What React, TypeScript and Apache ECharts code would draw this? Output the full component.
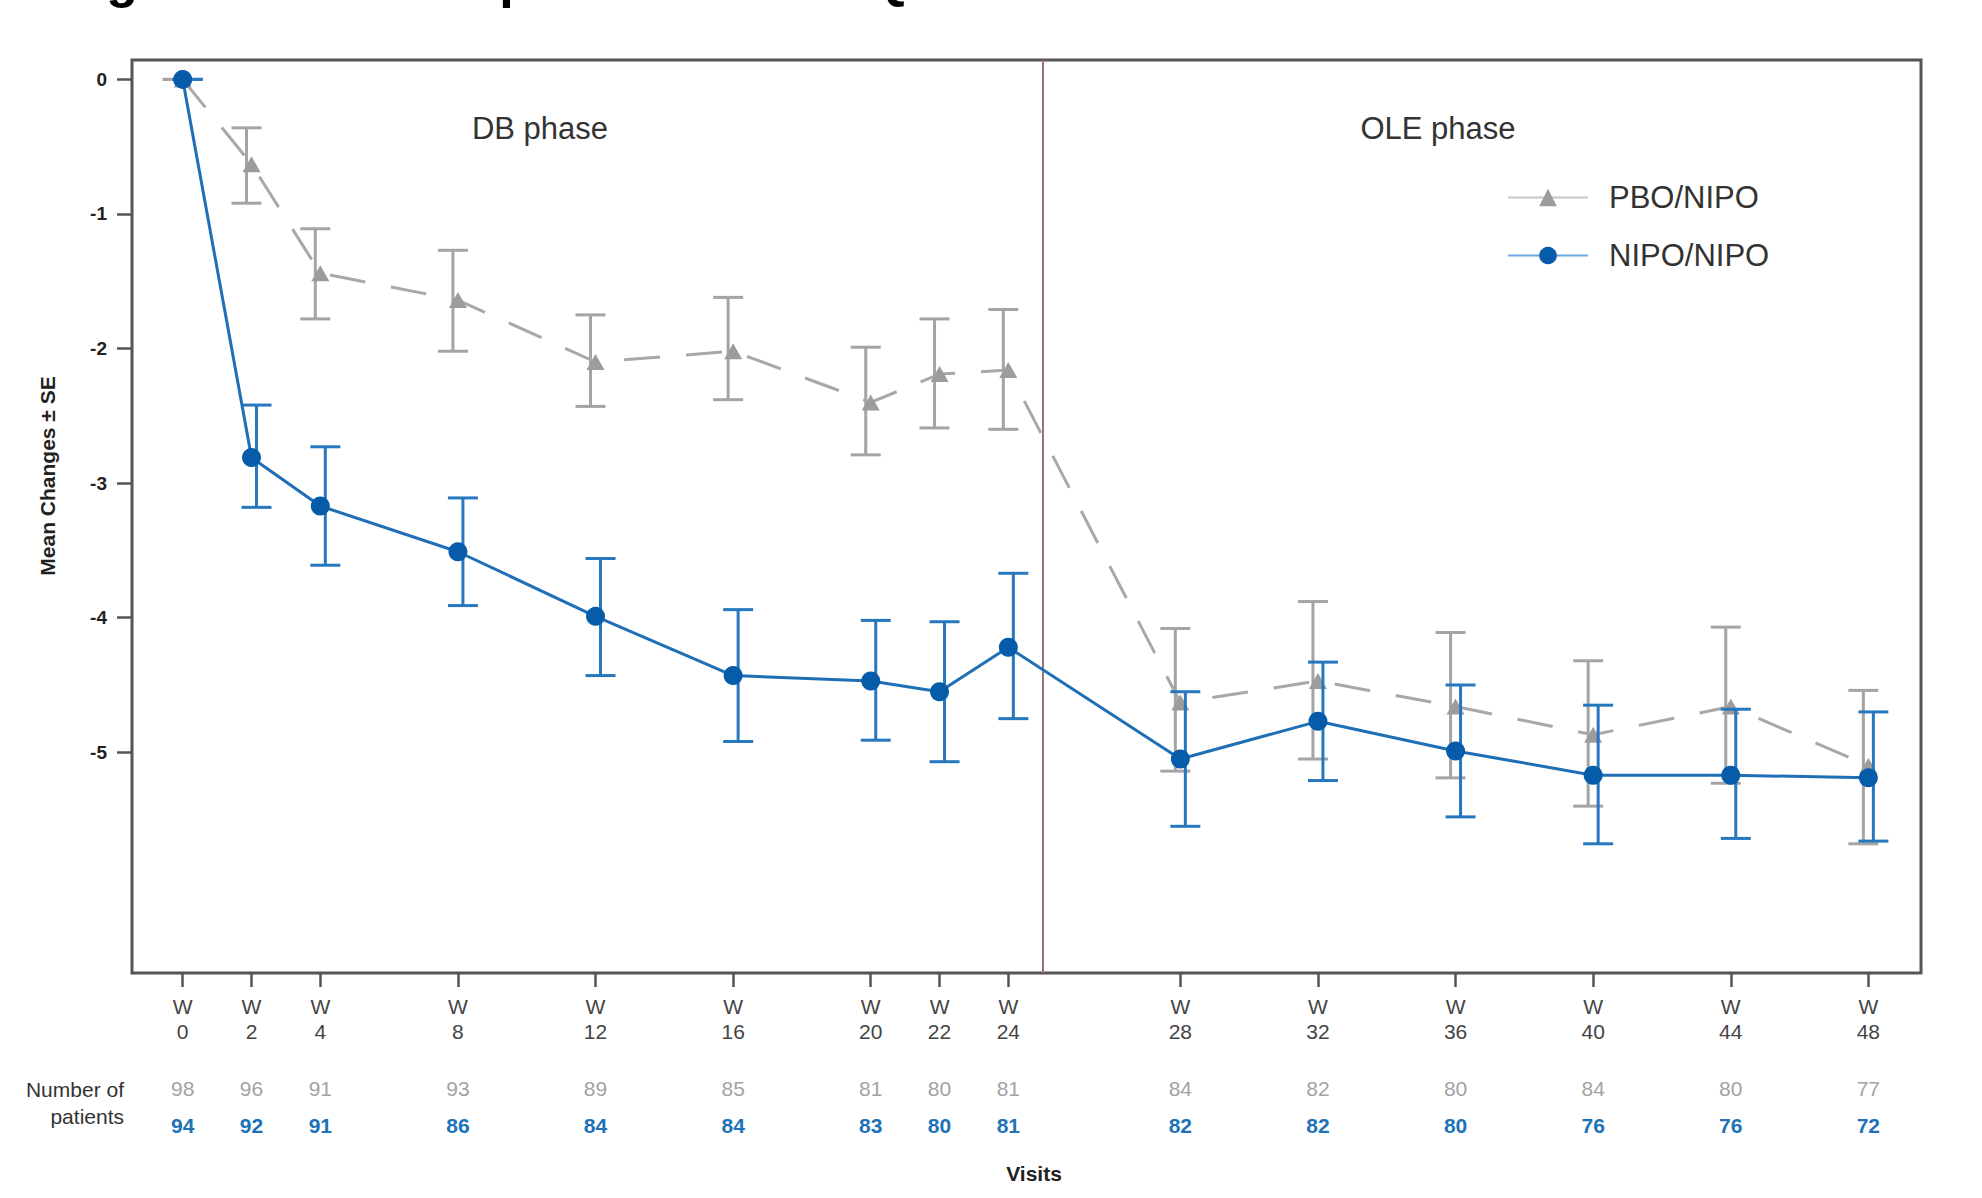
import React, { useEffect, useRef } from "react";
import * as echarts from "echarts";

const weeks = [0, 2, 4, 8, 12, 16, 20, 22, 24, 28, 32, 36, 40, 44, 48];
const pboMean = [0, -0.63, -1.44, -1.64, -2.1, -2.02, -2.4, -2.19, -2.16, -4.63, -4.47, -4.66, -4.87, -4.66, -5.1];
const pboUpper = [0, -0.36, -1.11, -1.27, -1.75, -1.62, -1.99, -1.78, -1.71, -4.08, -3.88, -4.11, -4.32, -4.07, -4.54];
const pboLower = [0, -0.92, -1.78, -2.02, -2.43, -2.38, -2.79, -2.59, -2.6, -5.14, -5.05, -5.19, -5.4, -5.23, -5.68];
const nipoMean = [0, -2.81, -3.17, -3.51, -3.99, -4.43, -4.47, -4.55, -4.22, -5.05, -4.77, -4.99, -5.17, -5.17, -5.19];
const nipoUpper = [0, -2.42, -2.73, -3.11, -3.56, -3.94, -4.02, -4.03, -3.67, -4.55, -4.33, -4.5, -4.65, -4.68, -4.7];
const nipoLower = [0, -3.18, -3.61, -3.91, -4.43, -4.92, -4.91, -5.07, -4.75, -5.55, -5.21, -5.48, -5.68, -5.64, -5.66];
const pboN = [98, 96, 91, 93, 89, 85, 81, 80, 81, 84, 82, 80, 84, 80, 77];
const nipoN = [94, 92, 91, 86, 84, 84, 83, 80, 81, 82, 82, 80, 76, 76, 72];
const yTicks = [0, -1, -2, -3, -4, -5];
const phaseBreakWeek = 24;

const FONT = '"Liberation Sans", Arial, sans-serif';
const GRAY_LINE = "#a8a8a8";
const GRAY_MARK = "#9c9c9c";
const GRAY_ERR = "#a4a4a4";
const BLUE_LINE = "#1f6fb6";
const BLUE_MARK = "#075caa";
const BLUE_ERR = "#2677bd";

// axis position: one extra gap unit between the DB and OLE phases
const pos = weeks.map((w) => (w <= phaseBreakWeek ? w : w + 1));
const breakPos = phaseBreakWeek + 1;
const idxOf = (v: number) => pos.findIndex((p) => Math.abs(p - v) < 1e-6);

function errSeries(name: string, up: number[], lo: number[], color: string, offset: number, z: number) {
  return {
    name,
    type: "custom",
    z,
    xAxisIndex: 0,
    yAxisIndex: 0,
    encode: { x: 0, y: [1, 2] },
    data: pos.map((p, i) => [p, up[i], lo[i]]),
    renderItem: (params: any, api: any) => {
      const x = api.value(0);
      const a = api.coord([x, api.value(1)]);
      const b = api.coord([x, api.value(2)]);
      const cx = a[0] + offset;
      const half = 15;
      const st = { stroke: color, lineWidth: 3 };
      return {
        type: "group",
        children: [
          { type: "line", shape: { x1: cx, y1: a[1], x2: cx, y2: b[1] }, style: st },
          { type: "line", shape: { x1: cx - half, y1: a[1], x2: cx + half, y2: a[1] }, style: st },
          { type: "line", shape: { x1: cx - half, y1: b[1], x2: cx + half, y2: b[1] }, style: st },
        ],
      };
    },
  };
}

export default function App() {
  const ref = useRef<HTMLDivElement>(null);
  useEffect(() => {
    document.body.style.margin = "0";
    const chart = echarts.init(ref.current!, null, { renderer: "svg" });
    const xBase = {
      type: "value",
      gridIndex: 0,
      min: -1.474,
      max: 50.53,
      position: "bottom",
      splitLine: { show: false },
      axisLine: { show: false, onZero: false },
    };
    const option: any = {
      animation: false,
      backgroundColor: "#fff",
      textStyle: { fontFamily: FONT },
      grid: {
        left: 132,
        top: 60,
        right: 61,
        bottom: 225,
        show: true,
        borderColor: "#555",
        borderWidth: 3,
        backgroundColor: "transparent",
      },
      xAxis: [
        {
          ...xBase,
          axisTick: { show: true, length: 14, customValues: pos, lineStyle: { color: "#555", width: 2.5 } },
          axisLabel: {
            customValues: pos,
            formatter: (v: number) => "W\n" + weeks[idxOf(v)],
            color: "#444",
            fontSize: 21,
            lineHeight: 25,
            margin: 21,
            fontFamily: FONT,
          },
        },
        {
          ...xBase,
          axisTick: { show: false },
          axisLabel: {
            customValues: pos,
            formatter: (v: number) => String(pboN[idxOf(v)]),
            color: "#a3a3a3",
            fontSize: 21,
            lineHeight: 21,
            margin: 105,
            fontFamily: FONT,
          },
        },
        {
          ...xBase,
          axisTick: { show: false },
          axisLabel: {
            customValues: pos,
            formatter: (v: number) => String(nipoN[idxOf(v)]),
            color: "#2072b8",
            fontWeight: "bold",
            fontSize: 21,
            lineHeight: 21,
            margin: 142,
            fontFamily: FONT,
          },
        },
      ],
      yAxis: {
        type: "value",
        min: -6.64,
        max: 0.144,
        splitLine: { show: false },
        axisLine: { show: false, onZero: false },
        axisTick: { show: true, length: 15, customValues: yTicks, lineStyle: { color: "#555", width: 2.5 } },
        axisLabel: {
          customValues: yTicks,
          color: "#222",
          fontWeight: "bold",
          fontSize: 19,
          margin: 25,
          fontFamily: FONT,
        },
      },
      legend: {
        orient: "vertical",
        left: 1507,
        top: 182,
        padding: 0,
        itemWidth: 80,
        itemHeight: 22,
        itemGap: 27,
        selectedMode: false,
        textStyle: { fontSize: 31, color: "#333", padding: [0, 0, 0, 16], fontFamily: FONT },
        data: [
          {
            name: "PBO/NIPO",
            lineStyle: { color: "#c6c6c6", width: 2, type: "solid" },
            itemStyle: { color: GRAY_MARK },
          },
          {
            name: "NIPO/NIPO",
            lineStyle: { color: "#6ea8dc", width: 2, type: "solid" },
            itemStyle: { color: BLUE_MARK },
          },
        ],
      },
      graphic: [
        {
          type: "text",
          x: 60,
          y: -21,
          style: {
            text: "Figure 2. Mean improvements in QMG score",
            fontSize: 52,
            fontWeight: "bold",
            fontFamily: FONT,
            fill: "#000",
            verticalAlign: "middle",
          },
        },
        {
          type: "text",
          x: 540,
          y: 128,
          style: { text: "DB phase", fontSize: 31, fontFamily: FONT, fill: "#333", align: "center", verticalAlign: "middle" },
        },
        {
          type: "text",
          x: 1438,
          y: 128,
          style: { text: "OLE phase", fontSize: 31, fontFamily: FONT, fill: "#333", align: "center", verticalAlign: "middle" },
        },
        {
          type: "text",
          x: 47,
          y: 476,
          rotation: Math.PI / 2,
          style: {
            text: "Mean Changes \u00b1 SE",
            fontSize: 21,
            fontWeight: "bold",
            fontFamily: FONT,
            fill: "#222",
            align: "center",
            verticalAlign: "middle",
          },
        },
        {
          type: "text",
          x: 124,
          y: 1089,
          style: { text: "Number of", fontSize: 21, fontFamily: FONT, fill: "#333", align: "right", verticalAlign: "middle" },
        },
        {
          type: "text",
          x: 124,
          y: 1116,
          style: { text: "patients", fontSize: 21, fontFamily: FONT, fill: "#333", align: "right", verticalAlign: "middle" },
        },
        {
          type: "text",
          x: 1034,
          y: 1173,
          style: {
            text: "Visits",
            fontSize: 21,
            fontWeight: "bold",
            fontFamily: FONT,
            fill: "#222",
            align: "center",
            verticalAlign: "middle",
          },
        },
      ],
      series: [
        errSeries("PBO/NIPO SE", pboUpper, pboLower, GRAY_ERR, -5, 2),
        {
          name: "PBO/NIPO",
          type: "line",
          z: 3,
          data: pos.map((p, i) => [p, pboMean[i]]),
          symbol: "triangle",
          symbolSize: [18, 16],
          itemStyle: { color: GRAY_MARK },
          lineStyle: { color: GRAY_LINE, width: 3, type: [36, 26] },
          markLine: {
            silent: true,
            symbol: ["none", "none"],
            label: { show: false },
            lineStyle: { color: "#9e7070", width: 2, type: "solid" },
            data: [{ xAxis: breakPos }],
          },
        },
        errSeries("NIPO/NIPO SE", nipoUpper, nipoLower, BLUE_ERR, 5, 4),
        {
          name: "NIPO/NIPO",
          type: "line",
          z: 5,
          data: pos.map((p, i) => [p, nipoMean[i]]),
          symbol: "circle",
          symbolSize: 19,
          itemStyle: { color: BLUE_MARK },
          lineStyle: { color: BLUE_LINE, width: 3 },
        },
      ],
    };
    chart.setOption(option);
    return () => chart.dispose();
  }, []);
  return <div ref={ref} style={{ width: 1982, height: 1198 }} />;
}
